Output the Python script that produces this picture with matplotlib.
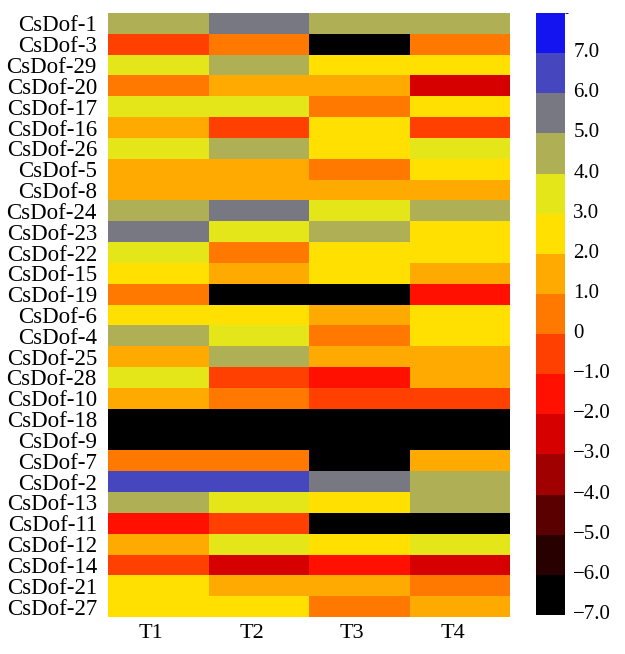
import numpy as np
import matplotlib
matplotlib.use("Agg")
import matplotlib.pyplot as plt
from matplotlib.colors import ListedColormap, BoundaryNorm
from matplotlib.transforms import ScaledTranslation

genes = ["CsDof-1", "CsDof-3", "CsDof-29", "CsDof-20", "CsDof-17", "CsDof-16",
         "CsDof-26", "CsDof-5", "CsDof-8", "CsDof-24", "CsDof-23", "CsDof-22",
         "CsDof-15", "CsDof-19", "CsDof-6", "CsDof-4", "CsDof-25", "CsDof-28",
         "CsDof-10", "CsDof-18", "CsDof-9", "CsDof-7", "CsDof-2", "CsDof-13",
         "CsDof-11", "CsDof-12", "CsDof-14", "CsDof-21", "CsDof-27"]
treatments = ["T1", "T2", "T3", "T4"]

t1 = [4.5, -0.5, 3.5, 0.5, 3.5, 1.5, 3.5, 1.5, 1.5, 4.5, 5.5, 3.5, 2.5, 0.5, 2.5,
      4.5, 1.5, 3.5, 1.5, -6.5, -6.5, 0.5, 6.5, 4.5, -1.5, 1.5, -0.5, 2.5, 2.5]
t2 = [5.5, 0.5, 4.5, 1.5, 3.5, -0.5, 4.5, 1.5, 1.5, 5.5, 3.5, 0.5, 1.5, -6.5, 2.5,
      3.5, 4.5, -0.5, 0.5, -6.5, -6.5, 0.5, 6.5, 3.5, -0.5, 3.5, -2.5, 1.5, 2.5]
t3 = [4.5, -6.5, 2.5, 1.5, 0.5, 2.5, 2.5, 0.5, 1.5, 3.5, 4.5, 2.5, 2.5, -6.5, 1.5,
      0.5, 1.5, -1.5, -0.5, -6.5, -6.5, -6.5, 5.5, 2.5, -6.5, 2.5, -1.5, 1.5, 0.5]
t4 = [4.5, 0.5, 2.5, -2.5, 2.5, -0.5, 3.5, 2.5, 1.5, 4.5, 2.5, 2.5, 1.5, -1.5, 2.5,
      2.5, 1.5, 1.5, -0.5, -6.5, -6.5, 1.5, 4.5, 4.5, -6.5, 3.5, -2.5, 0.5, 1.5]

kolory = ["#000000", "#280000", "#5a0000", "#a00000", "#d70000", "#ff1000",
          "#ff4000", "#ff7800", "#ffaa00", "#ffe000", "#e5e619", "#afaf55",
          "#787882", "#4646be", "#1414f0"]
granice = np.arange(-7, 9)

dane = np.column_stack([t1, t2, t3, t4])
cmap = ListedColormap(kolory)
norm = BoundaryNorm(granice, cmap.N)

plt.rcParams["font.family"] = ["Liberation Serif", "DejaVu Serif"]

fig = plt.figure(figsize=(6.25, 6.54), dpi=100)
ax = fig.add_axes([0.1728, 0.0566, 0.6432, 0.9235])
cax = fig.add_axes([0.8576, 0.0596, 0.0464, 0.9205])

mesh = ax.pcolormesh(dane, cmap=cmap, norm=norm)
ax.set_xlim(0, 4)
ax.set_ylim(len(genes), 0)
ax.set_yticks(np.arange(len(genes)) + 0.5)
ax.set_yticklabels(genes, fontsize=16.5)
ax.set_xticks(np.arange(4) + 0.5)
ax.set_xticklabels(treatments, fontsize=16)
ax.tick_params(length=0, pad=8)
ax.tick_params(axis="x", pad=5)
for lab in ax.get_xticklabels():
    lab.set_transform(lab.get_transform() + ScaledTranslation(-0.07, 0, fig.dpi_scale_trans))
for s in ax.spines.values():
    s.set_visible(False)

cb = fig.colorbar(mesh, cax=cax, boundaries=granice, ticks=np.arange(-7, 8))
etykiety = ["0" if v == 0 else f"{v:.1f}".replace("-", "\u2212") for v in np.arange(-7, 8)]
cb.set_ticklabels(etykiety)
cb.ax.tick_params(length=0, labelsize=15, pad=6)
for lab in cb.ax.get_yticklabels():
    lab.set_transform(lab.get_transform() + ScaledTranslation(0, 0.03, fig.dpi_scale_trans))
cb.outline.set_visible(False)

fig.savefig("out.png", dpi=100)
